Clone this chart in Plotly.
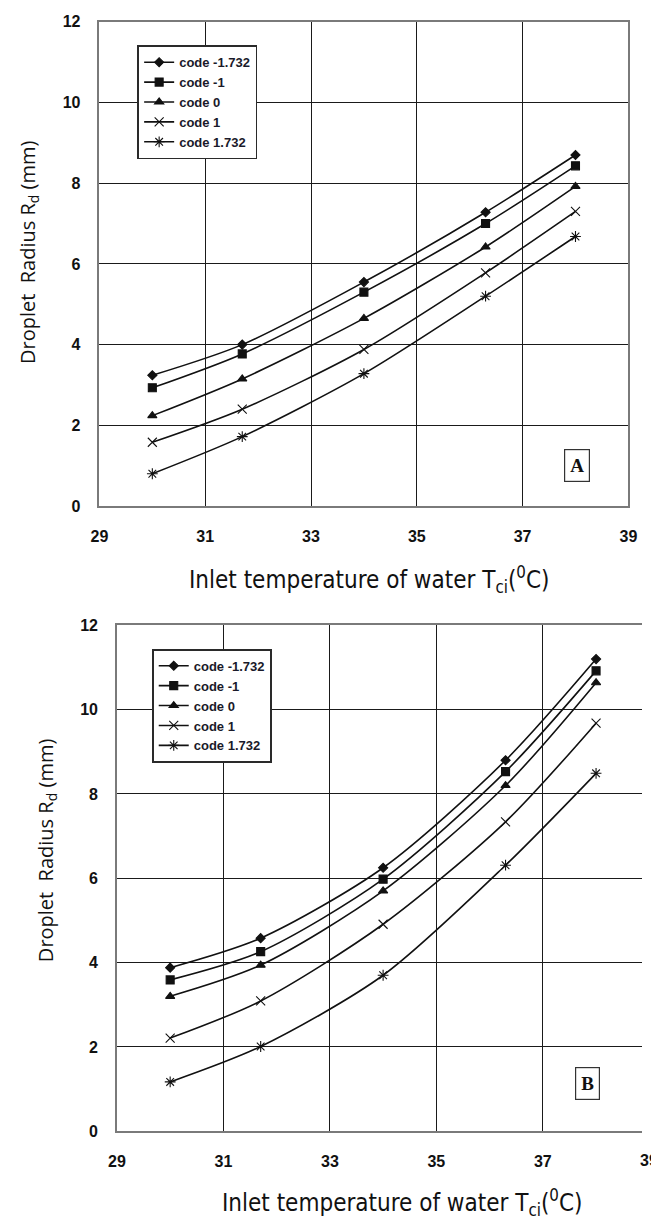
import plotly.graph_objects as go

# ---------------- data ----------------
temps = [30.0, 31.7, 34.0, 36.3, 38.0]
codes = ["code -1.732", "code -1", "code 0", "code 1", "code 1.732"]

# Panel A
a_code_m1732 = [3.24, 4.00, 5.55, 7.28, 8.70]
a_code_m1 = [2.93, 3.77, 5.30, 7.00, 8.43]
a_code_0 = [2.24, 3.15, 4.65, 6.42, 7.92]
a_code_1 = [1.58, 2.40, 3.88, 5.78, 7.30]
a_code_1732 = [0.80, 1.72, 3.28, 5.20, 6.68]

# Panel B
b_code_m1732 = [3.88, 4.58, 6.25, 8.80, 11.20]
b_code_m1 = [3.59, 4.26, 5.98, 8.53, 10.92]
b_code_0 = [3.20, 3.94, 5.70, 8.20, 10.64]
b_code_1 = [2.21, 3.09, 4.91, 7.34, 9.68]
b_code_1732 = [1.17, 2.01, 3.70, 6.31, 8.49]

x_ticks = [29, 31, 33, 35, 37, 39]
y_ticks = [0, 2, 4, 6, 8, 10, 12]

panel_a = [a_code_m1732, a_code_m1, a_code_0, a_code_1, a_code_1732]
panel_b = [b_code_m1732, b_code_m1, b_code_0, b_code_1, b_code_1732]

symbols = ["diamond", "square", "triangle-up", "x-thin-open", "asterisk-open"]
sizes = [7, 8, 8, 9, 9]

W, H = 651, 1229

fig = go.Figure()


def px_x(p):
    return p / W


def px_y(p):
    return 1 - p / H


for i, (name, ys) in enumerate(zip(codes, panel_a)):
    fig.add_trace(go.Scatter(
        x=temps, y=ys, name=name, mode="lines+markers",
        line=dict(color="#111111", width=1.6, shape="spline", smoothing=0.8),
        marker=dict(symbol=symbols[i], size=sizes[i], color="#111111",
                    line=dict(color="#111111", width=1.1)),
        xaxis="x", yaxis="y", legend="legend",
    ))

for i, (name, ys) in enumerate(zip(codes, panel_b)):
    fig.add_trace(go.Scatter(
        x=temps, y=ys, name=name, mode="lines+markers",
        line=dict(color="#111111", width=1.6, shape="spline", smoothing=0.8),
        marker=dict(symbol=symbols[i], size=sizes[i], color="#111111",
                    line=dict(color="#111111", width=1.1)),
        xaxis="x2", yaxis="y2", legend="legend2",
    ))

tick_font = dict(family="Liberation Sans, Arial, sans-serif", size=16,
                 color="#111111", weight="bold")
grid = dict(showgrid=True, gridcolor="#1a1a1a", gridwidth=1.1, zeroline=False,
            ticks="", tickfont=tick_font, showline=True, linecolor="#7a7a7a",
            linewidth=1.6)

# panel B x range: 29 at 111 px, 37 at 549 px -> 54.75 px / unit, plot cut at 651
b_scale = (549 - 111) / 8.0
b_xmax = 29 + (W - 111) / b_scale

legend_font = dict(family="Liberation Sans, Arial, sans-serif", size=13,
                   color="#1a1a2a", weight="bold")

fig.update_layout(
    width=W, height=H, autosize=False,
    margin=dict(l=0, r=0, t=0, b=0, pad=0),
    paper_bgcolor="white", plot_bgcolor="white",
    xaxis=dict(domain=[px_x(93), px_x(637)], range=[29, 39], tickvals=x_ticks,
               anchor="y", mirror=True, ticklabelstandoff=15, **grid),
    yaxis=dict(domain=[px_y(505), px_y(14)], range=[0, 12], tickvals=y_ticks,
               anchor="x", mirror=True, ticklabelstandoff=14, **grid),
    xaxis2=dict(domain=[px_x(111), 1.0], range=[29, b_xmax],
                tickvals=x_ticks[:-1], anchor="y2", mirror=True,
                ticklabelstandoff=15, **grid),
    yaxis2=dict(domain=[px_y(1139), px_y(626)], range=[0, 12],
                tickvals=y_ticks, anchor="x2", mirror=False,
                ticklabelstandoff=14, **grid),
    legend=dict(x=px_x(132), y=px_y(38), xanchor="left", yanchor="top",
                bgcolor="white", bordercolor="#2a2a2a", borderwidth=1.8,
                font=legend_font, tracegroupgap=0, itemwidth=30),
    legend2=dict(x=px_x(147), y=px_y(650), xanchor="left", yanchor="top",
                 bgcolor="white", bordercolor="#2a2a2a", borderwidth=1.8,
                 font=legend_font, tracegroupgap=0, itemwidth=30),
    showlegend=True,
)

title_font = dict(family="Liberation Sans Narrow, Arial Narrow, DejaVu Sans Condensed, sans-serif",
                  size=24, color="#111111")
ytitle_font = dict(family="Open Sans, Noto Sans, sans-serif", size=20, color="#111111")
xtitle = "Inlet temperature of water T<sub>ci</sub>(<sup>0</sup>C)"
ytitle = "Droplet  Radius R<sub>d</sub> (mm)"
box_font = dict(family="Liberation Serif, Times New Roman, serif", size=19,
                color="#111111", weight="bold")

annotations = [
    dict(text=xtitle, x=px_x(370), y=px_y(580), xref="paper", yref="paper",
         xanchor="center", yanchor="middle", showarrow=False, font=title_font),
    dict(text=xtitle, x=px_x(404), y=px_y(1211), xref="paper", yref="paper",
         xanchor="center", yanchor="middle", showarrow=False, font=title_font),
    dict(text=ytitle, x=px_x(20), y=px_y(247), xref="paper", yref="paper",
         xanchor="center", yanchor="middle", showarrow=False, textangle=-90,
         font=ytitle_font),
    dict(text=ytitle, x=px_x(38), y=px_y(854), xref="paper", yref="paper",
         xanchor="center", yanchor="middle", showarrow=False, textangle=-90,
         font=ytitle_font),
    dict(text="A", x=px_x(584), y=px_y(464), xref="paper", yref="paper",
         xanchor="center", yanchor="middle", showarrow=False, font=box_font,
         bordercolor="#333333", borderwidth=1.2, borderpad=5, bgcolor="white"),
    dict(text="B", x=px_x(595), y=px_y(1091), xref="paper", yref="paper",
         xanchor="center", yanchor="middle", showarrow=False, font=box_font,
         bordercolor="#333333", borderwidth=1.2, borderpad=5, bgcolor="white"),
    dict(text="39", x=px_x(658), y=px_y(1169), xref="paper", yref="paper",
         xanchor="center", yanchor="middle", showarrow=False, font=tick_font),
]
fig.update_layout(annotations=annotations)

fig.write_html("out.html")
